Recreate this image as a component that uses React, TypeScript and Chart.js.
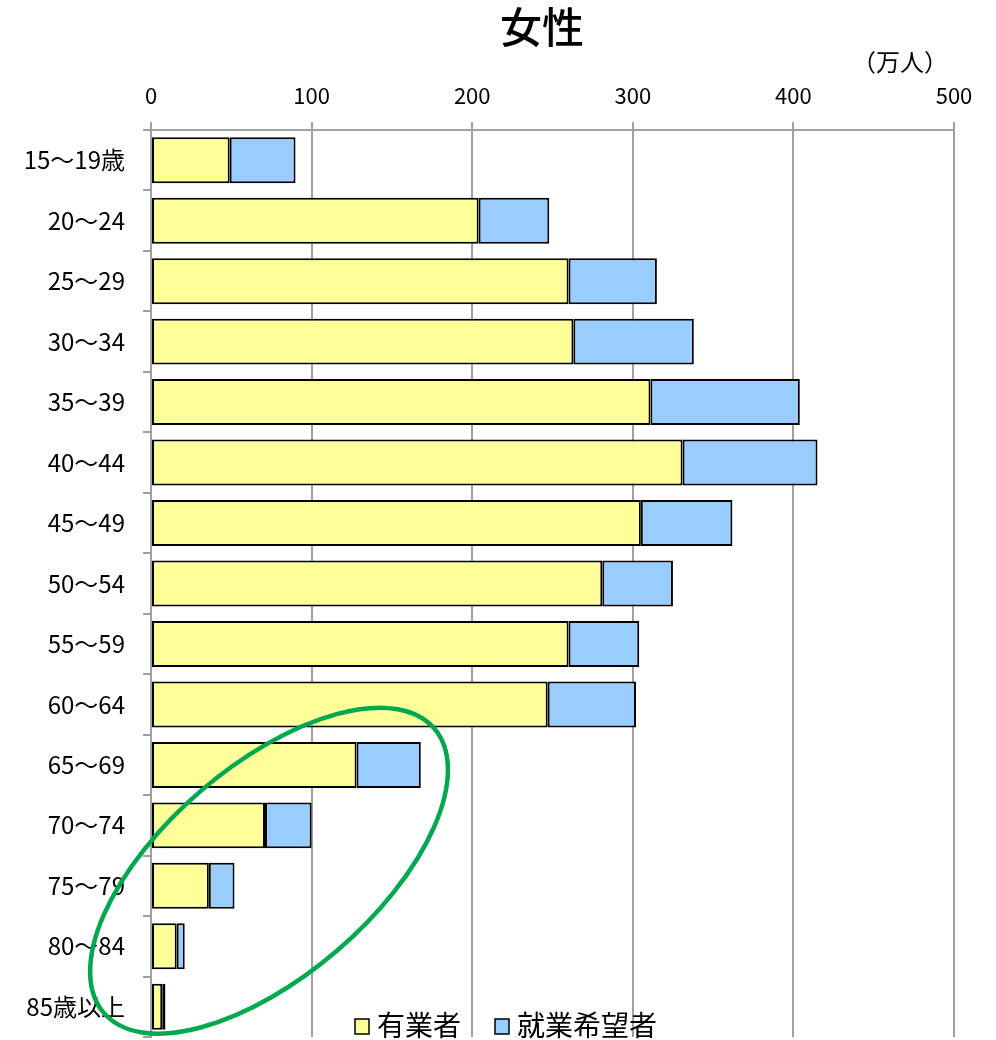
import React, { useEffect, useRef } from "react";
import { Chart, registerables } from "chart.js";

Chart.register(...registerables);

// 年齢階級
const ageGroups = [
  "15～19歳", "20～24", "25～29", "30～34", "35～39", "40～44", "45～49",
  "50～54", "55～59", "60～64", "65～69", "70～74", "75～79", "80～84", "85歳以上",
];

// 有業者（万人）
const employed = [49, 204, 260, 263, 311, 331, 305, 281, 260, 247, 128, 71, 36, 16, 7];

// 就業希望者（万人）
const jobSeekers = [41, 44, 55, 75, 93, 84, 57, 44, 44, 55, 40, 29, 16, 5, 2];

// 横軸の目盛
const xTicks = [0, 100, 200, 300, 400, 500];

const FONT = "'Noto Sans CJK JP', 'Noto Sans', sans-serif";
const YELLOW = "#FFFF99";
const BLUE = "#99CCFF";

// 高齢層を囲む楕円（データ座標で中心、半径はピクセル）
const circleCenterValue = 73.5;
const circleCenterRow = 11.75;
const circleRadiusMajor = 218;
const circleRadiusMinor = 105;
const circleAngleDeg = -40.7;

const overlayPlugin = {
  id: "overlay",
  afterDraw(chart: any) {
    const { ctx, scales } = chart;
    ctx.save();

    // タイトル
    ctx.fillStyle = "#000";
    ctx.font = `500 42px ${FONT}`;
    ctx.textAlign = "center";
    ctx.textBaseline = "middle";
    ctx.fillText("女性", 542, 27);

    // 単位
    ctx.font = `24px ${FONT}`;
    ctx.fillText("（万人）", 900, 62);

    // 凡例
    const items = [
      { label: "有業者", color: YELLOW, x: 355 },
      { label: "就業希望者", color: BLUE, x: 495 },
    ];
    ctx.font = `28px ${FONT}`;
    ctx.textAlign = "left";
    ctx.textBaseline = "middle";
    for (const it of items) {
      ctx.fillStyle = it.color;
      ctx.fillRect(it.x, 1019, 14, 15);
      ctx.strokeStyle = "#000";
      ctx.lineWidth = 1.5;
      ctx.strokeRect(it.x, 1019, 14, 15);
      ctx.fillStyle = "#000";
      ctx.fillText(it.label, it.x + 22, 1025);
    }

    // 楕円
    const cx = scales.x.getPixelForValue(circleCenterValue);
    const cy = scales.y.getPixelForValue(circleCenterRow);
    ctx.beginPath();
    ctx.ellipse(cx, cy, circleRadiusMajor, circleRadiusMinor, (circleAngleDeg * Math.PI) / 180, 0, Math.PI * 2);
    ctx.strokeStyle = "#00A84F";
    ctx.lineWidth = 4.5;
    ctx.stroke();

    ctx.restore();
  },
};

export default function App() {
  const canvasRef = useRef<HTMLCanvasElement | null>(null);

  useEffect(() => {
    const canvas = canvasRef.current;
    if (!canvas) return;
    const chart = new Chart(canvas, {
      type: "bar",
      data: {
        labels: ageGroups,
        datasets: [
          {
            label: "有業者",
            data: employed,
            backgroundColor: YELLOW,
            borderColor: "#000",
            borderWidth: 2,
            borderSkipped: false,
            barPercentage: 0.76,
            categoryPercentage: 1,
          },
          {
            label: "就業希望者",
            data: jobSeekers,
            backgroundColor: BLUE,
            borderColor: "#000",
            borderWidth: 2,
            borderSkipped: false,
            barPercentage: 0.76,
            categoryPercentage: 1,
          },
        ],
      },
      options: {
        indexAxis: "y",
        responsive: false,
        animation: false,
        maintainAspectRatio: false,
        layout: { padding: { left: 0, top: 0, right: 42, bottom: 3 } },
        plugins: {
          legend: { display: false },
          tooltip: { enabled: false },
          title: { display: false },
        },
        scales: {
          x: {
            position: "top",
            stacked: true,
            min: 0,
            max: 500,
            afterBuildTicks: (scale: any) => {
              scale.ticks = xTicks.map((v) => ({ value: v }));
            },
            afterFit: (scale: any) => {
              scale.height = 130;
            },
            grid: {
              color: "#A0A0A0",
              lineWidth: 2,
              tickLength: 8,
              drawTicks: true,
            },
            border: { color: "#A0A0A0", width: 2 },
            ticks: {
              color: "#000",
              font: { family: FONT, size: 22 },
              padding: 13,
              maxRotation: 0,
            },
          },
          y: {
            stacked: true,
            offset: true,
            afterFit: (scale: any) => {
              scale.width = 151;
              scale.paddingTop = 0;
              scale.paddingBottom = 0;
            },
            grid: {
              offset: true,
              drawOnChartArea: false,
              color: "#A0A0A0",
              lineWidth: 2,
              tickLength: 8,
            },
            border: { color: "#A0A0A0", width: 2 },
            ticks: {
              color: "#000",
              font: { family: FONT, size: 24 },
              padding: 18,
              autoSkip: false,
            },
          },
        },
      },
      plugins: [overlayPlugin],
    } as any);
    return () => chart.destroy();
  }, []);

  return (
    <div style={{ position: "absolute", left: 0, top: 0, width: 996, height: 1040, background: "#fff" }}>
      <canvas ref={canvasRef} width={996} height={1040} style={{ display: "block" }} />
    </div>
  );
}
